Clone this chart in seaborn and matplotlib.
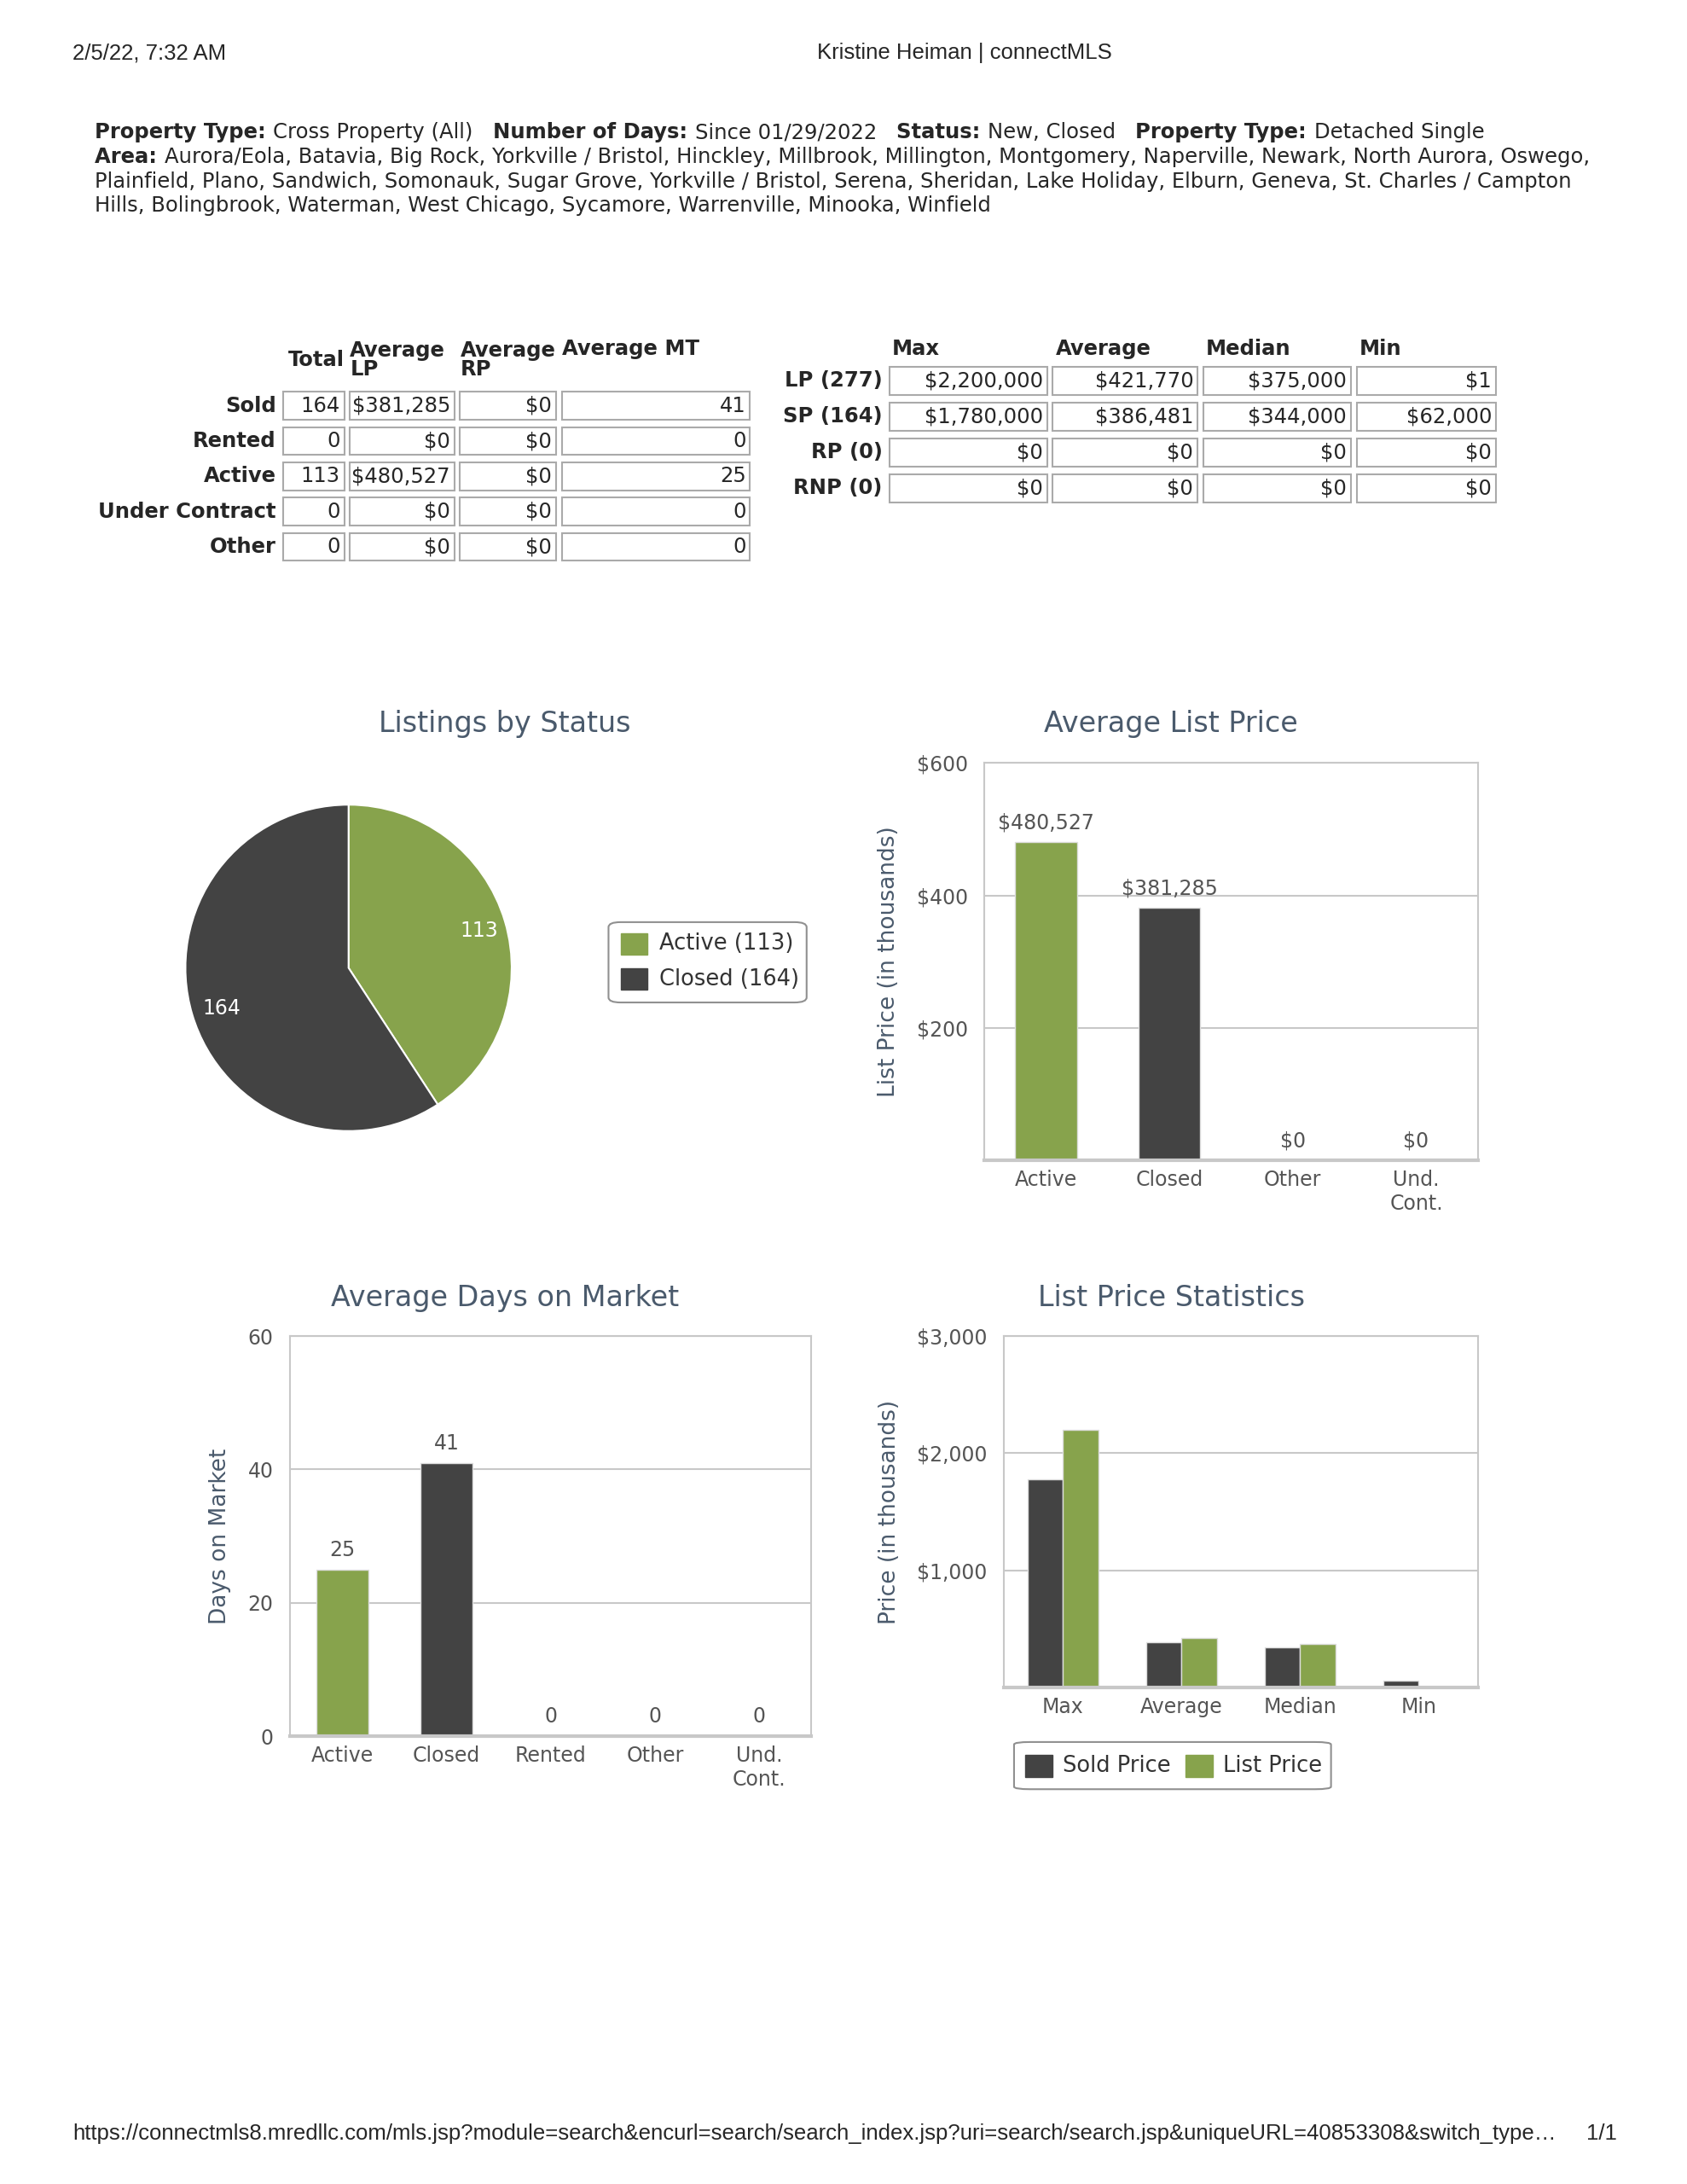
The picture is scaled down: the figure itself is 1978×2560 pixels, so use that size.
import matplotlib
matplotlib.use("Agg")
import matplotlib.pyplot as plt
import seaborn as sns
import pandas as pd
from matplotlib.patches import Rectangle, FancyBboxPatch

sns.set_theme(style="white")
plt.rcParams['font.family'] = ['DejaVu Sans']

GREEN = "#87A34C"
DARK = "#434343"
TITLE = "#4A5A6C"
TXT = "#555555"
GRID = "#C8C8C8"

# data
status_labels = ["Active", "Closed"]
status_counts = [113, 164]
lp_cats = ["Active", "Closed", "Other", "Und.\nCont."]
lp_vals = [480.527, 381.285, 0, 0]
lp_text = ["$480,527", "$381,285", "$0", "$0"]
dom_cats = ["Active", "Closed", "Rented", "Other", "Und.\nCont."]
dom_vals = [25, 41, 0, 0, 0]
stat_cats = ["Max", "Average", "Median", "Min"]
sold_price = [1780, 386.481, 344, 62]
list_price = [2200, 421.770, 375, 0.001]

left_rows = ["Sold", "Rented", "Active", "Under Contract", "Other"]
left_cols = ["Total", "Average\nLP", "Average\nRP", "Average MT"]
left_vals = [["164", "$381,285", "$0", "41"],
             ["0", "$0", "$0", "0"],
             ["113", "$480,527", "$0", "25"],
             ["0", "$0", "$0", "0"],
             ["0", "$0", "$0", "0"]]
right_rows = ["LP (277)", "SP (164)", "RP (0)", "RNP (0)"]
right_cols = ["Max", "Average", "Median", "Min"]
right_vals = [["$2,200,000", "$421,770", "$375,000", "$1"],
              ["$1,780,000", "$386,481", "$344,000", "$62,000"],
              ["$0", "$0", "$0", "$0"],
              ["$0", "$0", "$0", "$0"]]

W, H = 1210.0, 1566.0
def fx(x): return x / W
def fy(y): return 1 - y / H

FS = 17.5
fig = plt.figure(figsize=(19.78, 25.6), dpi=100)

fig.text(fx(52), fy(38), "2/5/22, 7:32 AM", fontsize=18.5, family="Liberation Sans", va="center")
fig.text(fx(692), fy(38), "Kristine Heiman | connectMLS", fontsize=18.5, family="Liberation Sans", va="center", ha="center")
fig.text(fx(52), fy(1530), "https://connectmls8.mredllc.com/mls.jsp?module=search&encurl=search/search_index.jsp?uri=search/search.jsp&uniqueURL=40853308&switch_type…",
         fontsize=18.5, family="Liberation Sans", va="center")
fig.text(fx(1160), fy(1530), "1/1", fontsize=18.5, family="Liberation Sans", va="center", ha="right")

hdr = [
    [("Property Type: ", True), ("Cross Property (All)   ", False), ("Number of Days: ", True), ("Since 01/29/2022   ", False),
     ("Status: ", True), ("New, Closed   ", False), ("Property Type: ", True), ("Detached Single", False)],
    [("Area: ", True), ("Aurora/Eola, Batavia, Big Rock, Yorkville / Bristol, Hinckley, Millbrook, Millington, Montgomery, Naperville, Newark, North Aurora, Oswego,", False)],
    [("Plainfield, Plano, Sandwich, Somonauk, Sugar Grove, Yorkville / Bristol, Serena, Sheridan, Lake Holiday, Elburn, Geneva, St. Charles / Campton", False)],
    [("Hills, Bolingbrook, Waterman, West Chicago, Sycamore, Warrenville, Minooka, Winfield", False)],
]
fig.canvas.draw()
r = fig.canvas.get_renderer()
for i, line in enumerate(hdr):
    x = fx(68)
    for s, b in line:
        t = fig.text(x, fy(95 + 17.5 * i), s, fontsize=FS, fontweight="bold" if b else "normal", va="center")
        bb = t.get_window_extent(renderer=r)
        x += bb.width / fig.bbox.width

def cell(x0, x1, yc, s):
    fig.patches.append(Rectangle((fx(x0), fy(yc + 10)), fx(x1) - fx(x0), fy(yc - 10) - fy(yc + 10),
                                 transform=fig.transFigure, fill=False, ec="#AAAAAA", lw=1.5))
    fig.text(fx(x1 - 3), fy(yc), s, fontsize=FS, ha="right", va="center")

lcols = [(203, 247), (251, 326), (330, 399), (403, 538)]
for j, c in enumerate(left_cols):
    if "\n" in c:
        fig.text(fx(lcols[j][0]), fy(258), c, fontsize=FS, fontweight="bold", va="center", linespacing=0.9)
    else:
        fig.text(fx(lcols[j][1] if j == 0 else lcols[j][0]), fy(258 if j == 0 else 250), c, fontsize=FS,
                 fontweight="bold", va="center", ha="right" if j == 0 else "left")
for i, rw in enumerate(left_rows):
    yc = 291 + 25.3 * i
    fig.text(fx(198), fy(yc), rw, fontsize=FS, fontweight="bold", ha="right", va="center")
    for j, (a, b) in enumerate(lcols):
        cell(a, b, yc, left_vals[i][j])

rcols = [(638, 751), (755, 859), (863, 969), (973, 1073)]
for j, c in enumerate(right_cols):
    fig.text(fx(rcols[j][0] + 2), fy(250), c, fontsize=FS, fontweight="bold", va="center")
for i, rw in enumerate(right_rows):
    yc = 273 + 25.7 * i
    fig.text(fx(633), fy(yc), rw, fontsize=FS, fontweight="bold", ha="right", va="center")
    for j, (a, b) in enumerate(rcols):
        cell(a, b, yc, right_vals[i][j])

def make_ax(x0, x1, y0, y1):
    return fig.add_axes([fx(x0), fy(y1), fx(x1) - fx(x0), fy(y0) - fy(y1)])

def title(x, y, s):
    fig.text(fx(x), fy(y), s, fontsize=24, color=TITLE, ha="center", va="center")

def style(ax, ymax, ticks, labels, ylabel):
    ax.set_ylim(0, ymax)
    ax.set_yticks(ticks)
    ax.set_yticklabels(labels, fontsize=17, color=TXT)
    ax.yaxis.grid(True, color=GRID, lw=1.5)
    ax.set_axisbelow(True)
    for s in ax.spines.values():
        s.set_color(GRID); s.set_linewidth(1.5)
    ax.spines["bottom"].set_linewidth(3)
    ax.tick_params(axis="x", labelsize=17, labelcolor=TXT, length=0, pad=8)
    ax.tick_params(axis="y", length=0, pad=14)
    ax.set_xlabel("")
    ax.set_ylabel(ylabel, fontsize=19, color=TITLE, labelpad=14)

# pie
title(362, 519, "Listings by Status")
pax = fig.add_axes([fx(133), fy(811), fx(367) - fx(133), fy(577) - fy(811)])
pax.pie(status_counts, colors=[GREEN, DARK], startangle=90, counterclock=False, radius=1,
        wedgeprops=dict(ec="white", lw=1.5))
pax.text(0.8, 0.23, str(status_counts[0]), color="white", fontsize=17, ha="center", va="center")
pax.text(-0.78, -0.25, str(status_counts[1]), color="white", fontsize=17, ha="center", va="center")
pax.set_xlim(-1, 1); pax.set_ylim(-1, 1)
pax.set_aspect("equal")
lax = fig.add_axes([fx(435), fy(720), fx(580) - fx(435), fy(660) - fy(720)])
lax.axis("off")
lax.add_patch(FancyBboxPatch((0.01, 0.02), 0.98, 0.96, boxstyle="round,pad=0,rounding_size=0.06",
                             transform=lax.transAxes, fc="white", ec="#909090", lw=1.5))
for k, (lab, col) in enumerate(zip(status_labels, [GREEN, DARK])):
    yy = 0.72 - 0.42 * k
    lax.add_patch(Rectangle((0.07, yy - 0.13), 0.13, 0.26, transform=lax.transAxes, color=col))
    lax.text(0.26, yy, f"{lab} ({status_counts[k]})", fontsize=18.5, color="#333333", va="center", transform=lax.transAxes)

# average list price
title(840, 519, "Average List Price")
ax = make_ax(706, 1060, 547, 832)
d = pd.DataFrame({"cat": lp_cats, "val": lp_vals})
sns.barplot(data=d, x="cat", y="val", hue="cat", palette=[GREEN, DARK, DARK, DARK], width=0.5,
            saturation=1, legend=False, ax=ax, ec="#DDDDDD", lw=1)
for i, (v, t) in enumerate(zip(lp_vals, lp_text)):
    ax.text(i, v + 14, t, ha="center", va="bottom", fontsize=17, color=TXT)
style(ax, 600, [200, 400, 600], ["$200", "$400", "$600"], "List Price (in thousands)")
ax.set_xlim(-0.5, 3.5)

# days on market
title(362, 931, "Average Days on Market")
ax = make_ax(208, 582, 958, 1245)
d = pd.DataFrame({"cat": dom_cats, "val": dom_vals})
sns.barplot(data=d, x="cat", y="val", hue="cat", palette=[GREEN, DARK, DARK, DARK, DARK], width=0.5,
            saturation=1, legend=False, ax=ax, ec="#DDDDDD", lw=1)
for i, v in enumerate(dom_vals):
    ax.text(i, v + 1.4, str(v), ha="center", va="bottom", fontsize=17, color=TXT)
style(ax, 60, [0, 20, 40, 60], ["0", "20", "40", "60"], "Days on Market")
ax.set_xlim(-0.5, 4.5)

# list price statistics
title(840, 931, "List Price Statistics")
ax = make_ax(720, 1060, 958, 1210)
d = pd.DataFrame({"cat": stat_cats * 2, "val": sold_price + list_price,
                  "ser": ["Sold Price"] * 4 + ["List Price"] * 4})
sns.barplot(data=d, x="cat", y="val", hue="ser", palette=[DARK, GREEN], width=0.6, saturation=1, ax=ax,
            ec="#DDDDDD", lw=1)
ax.legend_.remove()
style(ax, 3000, [1000, 2000, 3000], ["$1,000", "$2,000", "$3,000"], "Price (in thousands)")
ax.set_xlim(-0.5, 3.5)
lax = fig.add_axes([fx(725), fy(1284), fx(957) - fx(725), fy(1248) - fy(1284)])
lax.axis("off")
lax.add_patch(FancyBboxPatch((0.01, 0.03), 0.98, 0.94, boxstyle="round,pad=0,rounding_size=0.05",
                             transform=lax.transAxes, fc="white", ec="#909090", lw=1.5))
for k, (lab, col, x0) in enumerate([("Sold Price", DARK, 0.045), ("List Price", GREEN, 0.54)]):
    lax.add_patch(Rectangle((x0, 0.28), 0.085, 0.44, transform=lax.transAxes, color=col))
    lax.text(x0 + 0.115, 0.5, lab, fontsize=18.5, color="#333333", va="center", transform=lax.transAxes)

fig.savefig("out.png", dpi=100, facecolor="white")
